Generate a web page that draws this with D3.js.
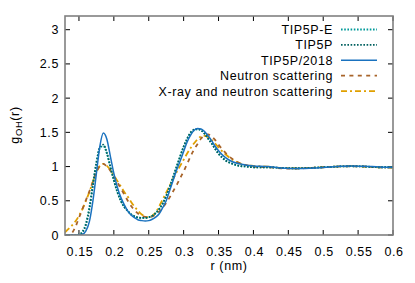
<!DOCTYPE html>
<html>
<head>
<meta charset="utf-8">
<script src="https://cdn.jsdelivr.net/npm/d3@7"></script>
<style>
  body { margin: 0; background: #fff; }
  text { font-family: "Liberation Sans", Arial, sans-serif; }
</style>
</head>
<body>
<div id="chart"></div>
<script>
// r values (nm) shared by all curves
var r = [0.13, 0.135, 0.14, 0.145, 0.15, 0.155, 0.16, 0.165, 0.17, 0.175, 0.18, 0.185, 0.19, 0.195,
  0.2, 0.205, 0.21, 0.215, 0.22, 0.225, 0.23, 0.235, 0.24, 0.245, 0.25, 0.255, 0.26, 0.265, 0.27,
  0.275, 0.28, 0.285, 0.29, 0.295, 0.3, 0.305, 0.31, 0.315, 0.32, 0.325, 0.33, 0.335, 0.34, 0.345,
  0.35, 0.36, 0.37, 0.38, 0.39, 0.4, 0.42, 0.44, 0.46, 0.48, 0.5, 0.52, 0.54, 0.56, 0.58, 0.6];

var tip5pE = [0, 0, 0, 0, 0.005, 0.05, 0.17, 0.41, 0.75, 1.06, 1.27, 1.3, 1.19, 0.99,
  0.8, 0.63, 0.5, 0.41, 0.35, 0.3, 0.27, 0.255, 0.25, 0.25, 0.26, 0.28, 0.32, 0.38, 0.46,
  0.57, 0.7, 0.85, 1.0, 1.15, 1.29, 1.4, 1.49, 1.53, 1.545, 1.53, 1.48, 1.41, 1.34, 1.26,
  1.19, 1.09, 1.04, 1.01, 1.0, 0.99, 0.99, 0.98, 0.975, 0.98, 0.99, 1.0, 1.005, 1.0, 0.99, 0.99];

var tip5p = [0, 0, 0, 0, 0.005, 0.04, 0.15, 0.38, 0.72, 1.05, 1.28, 1.32, 1.2, 1.0,
  0.8, 0.63, 0.5, 0.41, 0.35, 0.3, 0.27, 0.255, 0.25, 0.25, 0.26, 0.28, 0.32, 0.38, 0.46,
  0.57, 0.7, 0.85, 1.0, 1.15, 1.29, 1.41, 1.5, 1.54, 1.55, 1.53, 1.48, 1.41, 1.34, 1.26,
  1.19, 1.09, 1.04, 1.01, 1.0, 0.99, 0.99, 0.98, 0.975, 0.98, 0.99, 1.0, 1.005, 1.0, 0.99, 0.99];

var tip5p2018 = [0, 0, 0, 0, 0, 0.01, 0.06, 0.2, 0.5, 0.9, 1.3, 1.49, 1.4, 1.15,
  0.9, 0.7, 0.55, 0.44, 0.35, 0.29, 0.25, 0.22, 0.21, 0.205, 0.21, 0.23, 0.26, 0.31, 0.4,
  0.5, 0.65, 0.8, 0.95, 1.08, 1.22, 1.36, 1.46, 1.53, 1.555, 1.55, 1.51, 1.45, 1.38, 1.3,
  1.23, 1.13, 1.07, 1.04, 1.02, 1.01, 1.0, 0.98, 0.97, 0.975, 0.985, 1.0, 1.01, 1.005, 0.995, 0.99];

var neutron = [0, 0, 0.03, 0.12, 0.25, 0.38, 0.51, 0.64, 0.78, 0.92, 1.01, 1.04, 1.0, 0.94,
  0.86, 0.77, 0.68, 0.59, 0.5, 0.42, 0.36, 0.31, 0.28, 0.265, 0.26, 0.27, 0.3, 0.34, 0.4,
  0.47, 0.55, 0.64, 0.73, 0.83, 0.93, 1.04, 1.15, 1.25, 1.33, 1.41, 1.46, 1.47, 1.44, 1.39,
  1.32, 1.2, 1.11, 1.05, 1.02, 1.0, 0.99, 0.975, 0.97, 0.98, 0.99, 1.0, 1.005, 1.0, 0.99, 0.985];

var xray = [0.04, 0.09, 0.14, 0.2, 0.28, 0.38, 0.5, 0.63, 0.78, 0.92, 1.01, 1.04, 1.01, 0.95,
  0.87, 0.79, 0.71, 0.63, 0.56, 0.48, 0.41, 0.35, 0.3, 0.27, 0.26, 0.28, 0.33, 0.42, 0.52,
  0.62, 0.72, 0.82, 0.92, 1.01, 1.1, 1.19, 1.27, 1.34, 1.4, 1.44, 1.45, 1.43, 1.39, 1.34,
  1.28, 1.18, 1.1, 1.05, 1.02, 1.01, 1.0, 0.98, 0.975, 0.98, 0.99, 1.0, 1.01, 1.0, 0.99, 0.985];

var seriesNames = ["TIP5P-E", "TIP5P", "TIP5P/2018", "Neutron scattering", "X-ray and neutron scattering"];
var seriesValues = [tip5pE, tip5p, tip5p2018, neutron, xray];
var seriesColors = ["#009a9a", "#00605f", "#1a72bf", "#a8642a", "#e0a000"];
var seriesDash = ["1.6,1.6", "1.6,1.6", null, "4,4.4", "6,3,2,3"];
var seriesWidth = [1.8, 1.8, 1.5, 1.8, 1.8];

var xTicks = [0.15, 0.2, 0.25, 0.3, 0.35, 0.4, 0.45, 0.5, 0.55, 0.6];
var yTicks = [0, 0.5, 1, 1.5, 2, 2.5, 3];

var width = 415, height = 283;
var plotLeft = 65, plotRight = 393, plotTop = 16, plotBottom = 235;

var svg = d3.select("#chart").append("svg")
  .attr("width", width)
  .attr("height", height);

var x = d3.scaleLinear().domain([0.13, 0.6]).range([plotLeft, plotRight]);
var y = d3.scaleLinear().domain([0, 3.2]).range([plotBottom, plotTop]);

// tick marks on all four sides, pointing inward
var ticks = svg.append("g").attr("stroke", "#000").attr("stroke-width", 1);
xTicks.forEach(function (t) {
  ticks.append("line").attr("x1", x(t)).attr("x2", x(t)).attr("y1", plotBottom).attr("y2", plotBottom - 5);
  ticks.append("line").attr("x1", x(t)).attr("x2", x(t)).attr("y1", plotTop).attr("y2", plotTop + 5);
});
yTicks.forEach(function (t) {
  ticks.append("line").attr("x1", plotLeft).attr("x2", plotLeft + 5).attr("y1", y(t)).attr("y2", y(t));
  ticks.append("line").attr("x1", plotRight).attr("x2", plotRight - 5).attr("y1", y(t)).attr("y2", y(t));
});

var labels = svg.append("g")
  .attr("fill", "#000")
  .style("font-size", "12.5px")
  .style("letter-spacing", "0.6px");

xTicks.forEach(function (t) {
  labels.append("text")
    .attr("x", x(t) + 1)
    .attr("y", 256)
    .attr("text-anchor", "middle")
    .text(d3.format("")(t));
});
yTicks.forEach(function (t) {
  labels.append("text")
    .attr("x", 59)
    .attr("y", y(t) + 4.5)
    .attr("text-anchor", "end")
    .text(d3.format("")(t));
});

labels.append("text")
  .attr("x", x(0.365))
  .attr("y", 270)
  .attr("text-anchor", "middle")
  .text("r (nm)");

var ylab = labels.append("text")
  .attr("transform", "translate(19,125) rotate(-90)")
  .attr("text-anchor", "middle");
ylab.append("tspan").text("g");
ylab.append("tspan").attr("dy", 3).style("font-size", "9.5px").text("OH");
ylab.append("tspan").attr("dy", -3).text("(r)");

// curves
svg.append("clipPath").attr("id", "clip")
  .append("rect").attr("x", plotLeft).attr("y", plotTop)
  .attr("width", plotRight - plotLeft).attr("height", plotBottom - plotTop);
var plot = svg.append("g").attr("clip-path", "url(#clip)");

var line = d3.line()
  .x(function (d) { return x(d[0]); })
  .y(function (d) { return y(d[1]); })
  .curve(d3.curveMonotoneX);

var order = [4, 3, 0, 1, 2];
order.forEach(function (i) {
  var pts = r.map(function (rv, k) { return [rv, seriesValues[i][k]]; });
  plot.append("path")
    .attr("d", line(pts))
    .attr("fill", "none")
    .attr("stroke", seriesColors[i])
    .attr("stroke-width", seriesWidth[i])
    .attr("stroke-dasharray", seriesDash[i]);
});

// legend
var legend = svg.append("g");
seriesNames.forEach(function (name, i) {
  var ly = 29.5 + i * 15.4;
  legend.append("text")
    .attr("x", 333)
    .attr("y", ly + 4.5)
    .attr("text-anchor", "end")
    .style("font-size", "12.5px")
    .style("letter-spacing", "0.6px")
    .text(name);
  legend.append("line")
    .attr("x1", 341).attr("x2", 377)
    .attr("y1", ly).attr("y2", ly)
    .attr("stroke", seriesColors[i])
    .attr("stroke-width", seriesWidth[i])
    .attr("stroke-dasharray", seriesDash[i]);
});

// frame
svg.append("rect")
  .attr("x", plotLeft).attr("y", plotTop)
  .attr("width", plotRight - plotLeft).attr("height", plotBottom - plotTop)
  .attr("fill", "none")
  .attr("stroke", "#808080")
  .attr("stroke-width", 1.6);
</script>
</body>
</html>
